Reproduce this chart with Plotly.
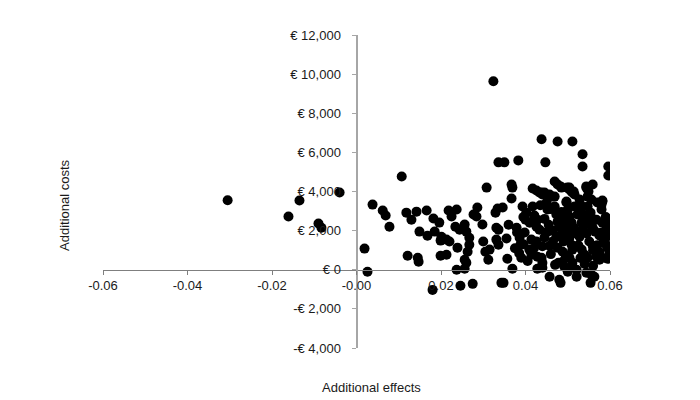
import plotly.graph_objects as go

# Additional effects (x) and additional costs (y)
effects = [
    -0.0305, -0.0161, -0.0135, -0.0090, -0.0083, -0.0040,
    0.0019, 0.0026, 0.0038, 0.0062, 0.0069, 0.0078,
    0.0107, 0.0118, 0.0130, 0.0142, 0.0166, 0.0182, 0.0196,
    0.0149, 0.0168, 0.0185, 0.0201,
    0.0121, 0.0145, 0.0147, 0.0180,
    0.0199, 0.0199, 0.0213,
    0.0218, 0.0237, 0.0225,
    0.0213, 0.0220, 0.0234, 0.0244, 0.0256, 0.0260,
    0.0267, 0.0267, 0.0263, 0.0256, 0.0260, 0.0239,
    0.0237, 0.0256, 0.0246, 0.0275,
    0.0284, 0.0277, 0.0286, 0.0298, 0.0308,
    0.0300, 0.0305, 0.0315, 0.0312,
    0.0329, 0.0334, 0.0346, 0.0331, 0.0336, 0.0331, 0.0336,
    0.0357, 0.0343, 0.0348,
    0.0324,
    0.0336, 0.0350, 0.0383, 0.0447,
    0.0438, 0.0476, 0.0511, 0.0535, 0.0535, 0.0596, 0.0596,
    0.0367, 0.0369, 0.0417, 0.0438, 0.0457, 0.0469, 0.0485,
    0.0504, 0.0514, 0.0544, 0.0559, 0.0582, 0.0367,
    0.0369, 0.0379, 0.0386, 0.0388, 0.0390,
    0.0393, 0.0402, 0.0400, 0.0398, 0.0409, 0.0414,
    0.0426, 0.0417, 0.0421, 0.0428, 0.0426, 0.0433,
    0.0414, 0.0426, 0.0428, 0.0438, 0.0428, 0.0440,
    0.0440, 0.0450, 0.0452, 0.0452, 0.0457, 0.0457, 0.0462,
    0.0469, 0.0473, 0.0476, 0.0480, 0.0473, 0.0485, 0.0476, 0.0488,
    0.0478, 0.0488, 0.0492, 0.0483, 0.0480, 0.0483,
    0.0497, 0.0500, 0.0504, 0.0511, 0.0504, 0.0509, 0.0500, 0.0504,
    0.0509, 0.0511, 0.0504, 0.0511, 0.0521, 0.0521,
    0.0528, 0.0530, 0.0523, 0.0533, 0.0535, 0.0528, 0.0533, 0.0540,
    0.0544, 0.0549, 0.0547, 0.0554, 0.0551, 0.0559, 0.0551, 0.0559,
    0.0547, 0.0544, 0.0556, 0.0554, 0.0563, 0.0568, 0.0575,
    0.0570, 0.0580, 0.0582, 0.0568, 0.0582, 0.0592, 0.0599,
    0.0580, 0.0592, 0.0594, 0.0599, 0.0582, 0.0594,
    0.0476, 0.0433, 0.0445, 0.0469, 0.0499, 0.0509, 0.0516, 0.0547, 0.0556,
    0.0497, 0.0516, 0.0528, 0.0580,
    0.0410, 0.0445, 0.0455, 0.0465, 0.0490, 0.0495, 0.0515, 0.0520, 0.0540,
    0.0545, 0.0565, 0.0575, 0.0585, 0.0570, 0.0560, 0.0525, 0.0490, 0.0465,
    0.0445, 0.0440, 0.0420, 0.0460, 0.0495, 0.0530, 0.0575, 0.0590, 0.0555,
    0.0590, 0.0600, 0.0600, 0.0600, 0.0535, 0.0485, 0.0460, 0.0435, 0.0395,
    0.0380, 0.0360, 0.0375, 0.0355, 0.0395, 0.0385, 0.0405, 0.0440, 0.0470,
    0.0500, 0.0510, 0.0540, 0.0560,
]
costs = [
    3550, 2720, 3540, 2360, 2150, 3950,
    1080, -100, 3330, 3030, 2770, 2200,
    4770, 2920, 2560, 2970, 3030, 2620, 2410,
    1950, 1740, 1950, 1690,
    720, 610, 410, -1030,
    1490, 720, 770,
    3030, 3080, 2720,
    1540, 1440, 2200, 2050, 2310, 1950,
    1640, 1280, 920, 510, 360, 1130,
    0, 50, -820, -720,
    2720, 2820, 3180, 2310, 4200,
    1440, 920, 1030, 510,
    2920, 3130, 3180, 2150, 2050, 1540, 1280,
    560, -670, -670,
    9640,
    5490, 5490, 5590, 5490,
    6670, 6560, 6560, 5900, 5280, 5280, 4820,
    4360, 4200, 4150, 3950, 3850, 4510, 4200,
    4200, 4000, 4200, 4360, 3540, 3640,
    50, 2150, 1640, 1280, 610,
    3230, 2920, 2560, 1900, 1030, 770,
    4050, 3230, 2770, 2560, 2200, 2050,
    1540, 1440, 670, 610, 50, 100,
    3850, 3440, 3080, 1950, 1230, -360, 3740,
    3230, 2820, 2460, 2200, 1690, 1790, 1130, 920,
    360, 410, 150, -670, -510, 4260,
    3490, 3080, 4100, 3950, 2720, 2410, 1950, 1640,
    1280, 1030, 610, 360, 0, -360,
    3590, 3330, 2820, 2410, 2050, 1690, 1030, 770,
    4260, 4000, 3230, 2920, 2310, 2150, 1440, 1230,
    610, -150, -260, -670, -360, 670, 510,
    3440, 3080, 3490, 2560, 2410, 2200, 2150,
    1900, 1690, 1130, 920, 610, 560,
    4360, 3950, 3950, 3740, 4200, 4000, 3850, 3740, 3590,
    3440, 3230, 3080, 3330,
    2400, 2600, 2300, 2000, 2550, 2250, 2150, 1850, 2600,
    1850, 1950, 1750, 1450, 1250, 1000, 1250, 1450, 1450,
    1650, 1200, 1100, 800, 750, 600, 900, 1300, 2700,
    2700, 1900, 2500, 1100, 2850, 2950, 3100, 3300, 2700,
    1900, 2300, 1100, 1600, 1300, 850, 450, 350, 250,
    -100, 200, 300, 200,
]

x_tickvals = [-0.06, -0.04, -0.02, 0.0, 0.02, 0.04, 0.06]
x_ticktext = ["-0.06", "-0.04", "-0.02", "-0.00", "0.02", "0.04", "0.06"]
y_tickvals = [-4000, -2000, 0, 2000, 4000, 6000, 8000, 10000, 12000]
y_ticktext = ["-€ 4,000", "-€ 2,000", "€ 0", "€ 2,000", "€ 4,000",
              "€ 6,000", "€ 8,000", "€ 10,000", "€ 12,000"]

font = dict(family="Liberation Sans, Arial, sans-serif", size=13, color="#1a1a1a")

fig = go.Figure(go.Scatter(
    x=effects, y=costs, mode="markers",
    marker=dict(color="black", size=10, line=dict(width=0)),
    showlegend=False,
))

fig.update_layout(
    width=700, height=400,
    margin=dict(l=103, r=90, t=35, b=52),
    paper_bgcolor="white", plot_bgcolor="white",
    font=font,
    xaxis=dict(
        range=[-0.06, 0.06], anchor="free", position=0.25,
        showline=True, linecolor="#7f7f7f", linewidth=1,
        ticks="outside", ticklen=4, tickcolor="#7f7f7f",
        tickvals=x_tickvals, ticktext=x_ticktext,
        showgrid=False, zeroline=False,
    ),
    yaxis=dict(
        range=[-4000, 12000], anchor="free", position=0.5,
        showline=True, linecolor="#a6a6a6", linewidth=2,
        ticks="outside", ticklen=4, tickcolor="#a6a6a6",
        tickvals=y_tickvals, ticktext=y_ticktext,
        ticklabelstandoff=8,
        showgrid=False, zeroline=False,
    ),
    annotations=[
        dict(text="Additional costs", xref="paper", yref="paper",
             x=-0.075, y=0.457, textangle=-90, showarrow=False,
             font=font, xanchor="center", yanchor="middle"),
        dict(text="Additional effects", xref="paper", yref="paper",
             x=0.53, y=-0.125, showarrow=False,
             font=font, xanchor="center", yanchor="middle"),
    ],
)

fig.write_html(
    "out.html",
    config={"displayModeBar": False},
    post_script="document.body.style.margin='0px';document.body.style.overflow='hidden';",
)
